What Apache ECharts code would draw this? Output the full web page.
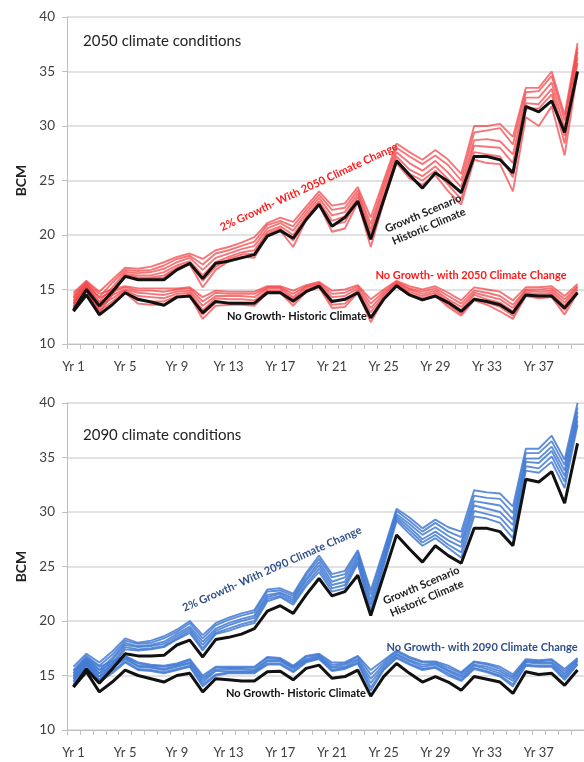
<!DOCTYPE html>
<html>
<head>
<meta charset="utf-8">
<script src="https://cdn.jsdelivr.net/npm/echarts@6/dist/echarts.min.js"></script>
<style>
html,body{margin:0;padding:0;background:#fff;}
#chart{width:584px;height:762px;}
</style>
</head>
<body>
<div id="chart"></div>
<script>
// ---------- DATA ----------
const categories = ['Yr 1','Yr 2','Yr 3','Yr 4','Yr 5','Yr 6','Yr 7','Yr 8','Yr 9','Yr 10',
  'Yr 11','Yr 12','Yr 13','Yr 14','Yr 15','Yr 16','Yr 17','Yr 18','Yr 19','Yr 20',
  'Yr 21','Yr 22','Yr 23','Yr 24','Yr 25','Yr 26','Yr 27','Yr 28','Yr 29','Yr 30',
  'Yr 31','Yr 32','Yr 33','Yr 34','Yr 35','Yr 36','Yr 37','Yr 38','Yr 39','Yr 40'];
const yTicks = [10, 15, 20, 25, 30, 35, 40];

// ---- Panel 1: 2050 climate conditions ----
const growthHistoric2050 = [13.1,15.0,13.5,14.8,16.2,15.9,15.9,15.9,16.8,17.4,16.0,17.4,17.6,17.9,18.2,19.9,20.4,19.7,21.4,22.8,20.8,21.6,23.1,19.6,23.2,26.8,25.5,24.3,25.7,24.9,23.9,27.2,27.2,26.9,25.7,31.8,31.3,32.3,29.4,35.0];
const growthCC2050_a = [14.7,15.8,14.8,15.9,17.0,16.9,17.1,17.5,18.0,18.3,17.8,18.6,18.9,19.3,19.8,21.1,21.6,21.2,22.6,24.0,22.7,22.9,24.4,21.6,25.0,28.4,27.6,26.9,27.8,26.9,25.6,30.0,30.0,30.2,29.0,33.5,33.5,35.0,31.0,37.6];
const growthCC2050_b = [14.3,15.6,14.3,15.6,16.8,16.7,16.8,17.2,17.8,18.1,17.3,18.3,18.6,19.0,19.4,20.9,21.3,20.8,22.3,23.7,22.3,22.5,24.1,21.0,24.6,28.0,27.2,26.5,27.3,26.4,25.0,29.4,29.6,29.8,28.3,33.1,33.2,34.6,30.5,37.2];
const growthCC2050_c = [14.0,15.4,13.9,15.2,16.6,16.5,16.6,16.9,17.5,17.9,16.8,17.9,18.3,18.7,19.0,20.6,21.1,20.4,22.0,23.4,21.8,22.1,23.8,20.5,24.2,27.6,26.6,25.9,26.8,25.7,24.4,28.7,28.8,28.6,27.4,32.6,32.6,34.0,29.8,36.8];
const growthCC2050_d = [13.7,15.2,13.5,14.9,16.4,16.3,16.3,16.6,17.2,17.6,16.3,17.5,18.0,18.4,18.6,20.3,20.8,20.0,21.7,23.1,21.3,21.7,23.5,20.1,23.7,27.2,26.0,25.4,26.3,25.1,23.8,28.2,28.1,28.0,26.6,32.1,32.0,33.4,29.1,36.3];
const growthCC2050_e = [13.5,15.1,13.2,14.7,16.3,16.1,16.1,16.3,17.0,17.4,15.8,17.1,17.8,18.2,18.3,20.1,20.6,19.5,21.5,22.9,20.9,21.2,23.2,19.6,23.4,26.9,25.6,25.0,25.9,24.6,23.3,27.6,27.4,27.2,25.3,31.6,31.6,32.9,28.4,35.8];
const growthCC2050_f = [13.3,15.0,12.9,14.5,16.3,16.0,16.0,16.1,16.9,17.3,15.2,16.8,17.6,18.0,17.9,20.0,20.4,18.9,21.4,22.8,20.3,20.6,23.0,18.9,23.0,26.6,25.2,24.6,25.5,24.0,22.8,26.9,26.6,26.5,24.0,30.8,30.0,31.8,27.3,35.0];
const noGrowthHistoric2050 = [13.0,14.5,12.7,13.6,14.7,14.1,13.85,13.55,14.3,14.4,12.85,13.9,13.75,13.75,13.75,14.7,14.7,13.95,14.8,15.3,13.9,14.1,14.7,12.4,14.1,15.35,14.5,14.05,14.4,13.8,13.0,14.1,13.9,13.6,12.85,14.5,14.4,14.4,13.3,14.7];
const noGrowthCC2050_a = [14.5,15.7,14.6,15.0,15.3,15.1,15.1,15.1,15.1,15.2,14.3,14.9,14.8,14.8,14.8,15.3,15.3,14.9,15.4,15.7,14.9,15.0,15.4,14.1,15.0,15.8,15.3,15.0,15.3,14.7,14.0,15.2,15.0,14.8,14.0,15.2,15.2,15.3,14.4,15.5];
const noGrowthCC2050_b = [14.2,15.5,14.2,14.8,15.2,14.9,14.9,14.8,15.0,15.1,13.9,14.7,14.6,14.6,14.6,15.2,15.2,14.6,15.3,15.6,14.6,14.7,15.3,13.7,14.8,15.7,15.1,14.8,15.1,14.4,13.7,14.9,14.7,14.4,13.6,15.0,15.0,15.1,14.1,15.3];
const noGrowthCC2050_c = [13.9,15.3,13.8,14.5,15.0,14.7,14.6,14.5,14.8,14.9,13.5,14.4,14.4,14.4,14.3,15.1,15.1,14.3,15.2,15.5,14.3,14.4,15.1,13.3,14.6,15.6,15.0,14.6,14.9,14.1,13.4,14.7,14.4,14.1,13.3,14.9,14.8,14.9,13.8,15.2];
const noGrowthCC2050_d = [13.7,15.1,13.4,14.2,14.9,14.4,14.3,14.2,14.6,14.7,13.1,14.2,14.1,14.1,14.0,14.9,14.9,14.1,15.0,15.4,14.0,14.0,14.9,12.9,14.4,15.5,14.8,14.4,14.7,13.9,13.1,14.5,14.1,13.8,13.0,14.7,14.6,14.7,13.5,15.0];
const noGrowthCC2050_e = [13.4,14.9,13.0,13.9,14.8,14.0,13.9,13.9,14.4,14.5,12.7,13.8,13.8,13.8,13.7,14.8,14.8,13.8,14.9,15.3,13.6,13.7,14.8,12.4,14.2,15.4,14.6,14.2,14.5,13.6,12.8,14.2,13.8,13.4,12.6,14.5,14.4,14.5,13.1,14.8];
const noGrowthCC2050_f = [13.2,14.8,12.6,13.6,14.7,13.7,13.6,13.6,14.3,14.4,12.3,13.5,13.6,13.6,13.5,14.7,14.7,13.5,14.8,15.2,13.3,13.4,14.7,12.0,14.1,15.3,14.5,14.0,14.4,13.4,12.6,14.0,13.6,13.0,12.3,14.4,14.2,14.3,12.7,14.7];

// ---- Panel 2: 2090 climate conditions ----
const growthHistoric2090 = [13.95,15.6,14.3,15.6,17.0,16.8,16.8,16.85,17.8,18.25,16.7,18.3,18.5,18.8,19.3,20.9,21.4,20.7,22.4,23.9,22.3,22.7,24.2,20.5,24.2,27.9,26.6,25.4,26.9,26.0,25.3,28.5,28.5,28.2,26.9,33.0,32.75,33.7,30.8,36.3];
const growthCC2090_a = [15.8,17.0,16.2,17.2,18.4,18.0,18.2,18.6,19.2,20.0,18.7,19.8,20.3,20.7,21.0,22.9,23.0,22.5,24.4,26.0,24.3,24.6,26.5,22.8,26.5,30.3,29.5,28.5,29.3,28.6,28.2,32.0,31.8,31.7,30.5,35.8,35.8,37.0,34.8,40.0];
const growthCC2090_b = [15.5,16.8,15.9,16.9,18.2,17.9,18.0,18.4,19.0,19.8,18.4,19.6,20.1,20.5,20.8,22.7,22.8,22.3,24.2,25.7,24.0,24.3,26.3,22.4,26.2,30.1,29.2,28.2,29.0,28.2,27.7,31.5,31.3,31.2,29.9,35.4,35.4,36.5,34.3,39.6];
const growthCC2090_c = [15.2,16.6,15.5,16.6,18.0,17.7,17.8,18.1,18.8,19.5,18.1,19.3,19.8,20.2,20.5,22.4,22.6,22.1,23.9,25.4,23.6,24.0,26.0,21.9,25.9,29.8,28.9,27.9,28.6,27.8,27.2,31.0,30.8,30.6,29.3,34.9,34.9,36.0,33.8,39.2];
const growthCC2090_d = [15.0,16.4,15.2,16.4,17.8,17.6,17.7,17.9,18.6,19.3,17.8,19.1,19.6,20.0,20.3,22.2,22.5,21.9,23.7,25.1,23.3,23.6,25.8,21.5,25.6,29.6,28.6,27.5,28.2,27.4,26.8,30.6,30.3,30.0,28.8,34.6,34.5,35.6,33.3,38.8];
const growthCC2090_e = [14.7,16.2,14.9,16.1,17.6,17.4,17.5,17.7,18.4,19.1,17.5,18.9,19.3,19.7,20.0,22.0,22.3,21.7,23.4,24.8,23.0,23.3,25.5,21.0,25.3,29.4,28.3,27.2,27.9,27.0,26.3,30.1,29.8,29.5,28.2,34.2,34.0,35.1,32.8,38.4];
const growthCC2090_f = [14.5,16.0,14.6,15.9,17.4,17.3,17.4,17.6,18.3,18.9,17.3,18.8,19.1,19.5,19.8,21.8,22.2,21.5,23.2,24.5,22.7,23.0,25.3,20.6,25.0,29.2,28.0,26.9,27.6,26.7,25.8,29.6,29.4,29.0,27.6,33.8,33.6,34.6,32.2,38.0];
const noGrowthHistoric2090 = [13.95,15.35,13.5,14.4,15.5,15.0,14.7,14.4,15.0,15.2,13.5,14.7,14.6,14.5,14.5,15.35,15.4,14.6,15.65,15.95,14.75,14.9,15.5,13.1,14.9,16.1,15.2,14.4,14.9,14.4,13.65,14.9,14.65,14.4,13.35,15.35,15.1,15.2,14.1,15.5];
const noGrowthCC2090_a = [15.4,16.6,15.8,16.3,16.8,16.2,16.0,15.9,16.1,16.5,15.0,15.8,15.8,15.8,15.8,16.7,16.6,15.9,16.8,17.0,16.2,16.2,16.8,15.5,16.4,17.3,16.7,16.3,16.3,15.9,15.3,16.3,16.1,15.8,15.1,16.5,16.4,16.5,15.6,16.6];
const noGrowthCC2090_b = [15.2,16.5,15.5,16.1,16.7,16.1,15.9,15.8,16.0,16.4,14.8,15.7,15.7,15.7,15.7,16.6,16.5,15.8,16.7,16.9,16.0,16.1,16.7,15.1,16.2,17.2,16.6,16.2,16.2,15.7,15.2,16.2,16.0,15.6,14.9,16.4,16.3,16.4,15.4,16.5];
const noGrowthCC2090_c = [14.9,16.3,15.2,15.9,16.6,15.9,15.8,15.6,15.9,16.2,14.6,15.5,15.6,15.6,15.5,16.4,16.4,15.7,16.5,16.8,15.8,16.0,16.5,14.7,16.0,17.0,16.4,16.0,16.1,15.5,15.0,16.0,15.8,15.4,14.7,16.3,16.2,16.2,15.2,16.4];
const noGrowthCC2090_d = [14.7,16.2,14.9,15.7,16.5,15.8,15.7,15.5,15.8,16.1,14.4,15.4,15.4,15.4,15.4,16.3,16.3,15.6,16.4,16.7,15.7,15.8,16.4,14.3,15.8,16.9,16.3,15.8,16.0,15.4,14.8,15.9,15.6,15.2,14.5,16.2,16.1,16.1,15.0,16.3];
const noGrowthCC2090_e = [14.4,16.0,14.6,15.4,16.3,15.6,15.5,15.3,15.6,15.9,14.2,15.1,15.3,15.3,15.3,16.1,16.1,15.4,16.3,16.6,15.5,15.7,16.2,13.9,15.6,16.7,16.1,15.6,15.8,15.2,14.6,15.7,15.4,15.0,14.2,16.0,15.9,15.9,14.8,16.1];
const noGrowthCC2090_f = [14.2,15.8,14.4,15.2,16.2,15.5,15.4,15.2,15.5,15.8,14.0,15.0,15.2,15.2,15.2,16.0,16.0,15.3,16.2,16.5,15.4,15.6,16.1,13.6,15.5,16.6,16.0,15.5,15.7,15.0,14.5,15.6,15.3,14.9,14.0,15.9,15.8,15.8,14.6,16.0];

// ---------- CHART ----------
const FONT = 'Lato, "Open Sans", sans-serif';
const RED = 'rgba(242,64,68,0.72)';
const BLUE = 'rgba(66,122,210,0.85)';
const BLACK = '#111111';

const chart = echarts.init(document.getElementById('chart'), null, {renderer: 'canvas'});

function xAxisDef(gridIndex) {
  return {
    type: 'category', gridIndex: gridIndex, data: categories, boundaryGap: true,
    axisLine: {show: true, lineStyle: {color: '#bfbfbf', width: 1}},
    axisTick: {show: true, interval: 0, length: 5, lineStyle: {color: '#bfbfbf'}},
    axisLabel: {interval: 3, margin: 16, color: '#404040', fontSize: 13, fontFamily: FONT},
    splitLine: {show: false}
  };
}
function yAxisDef(gridIndex) {
  return {
    type: 'value', gridIndex: gridIndex, min: yTicks[0], max: yTicks[yTicks.length - 1], interval: 5,
    name: 'BCM', nameLocation: 'middle', nameGap: 38, nameRotate: 90,
    nameTextStyle: {fontFamily: FONT, fontWeight: 'bold', fontSize: 14, color: '#222'},
    axisLine: {show: true, lineStyle: {color: '#bfbfbf', width: 1}},
    axisTick: {show: true, length: 5, lineStyle: {color: '#bfbfbf'}},
    axisLabel: {margin: 12, color: '#404040', fontSize: 13.5, fontFamily: FONT},
    splitLine: {show: true, lineStyle: {color: '#d9d9d9', width: 1.5}}
  };
}
function line(data, idx, color, width, z) {
  return {type: 'line', data: data, xAxisIndex: idx, yAxisIndex: idx, symbol: 'none',
    lineStyle: {color: color, width: width}, itemStyle: {color: color}, z: z, silent: true, animation: false};
}

const series = [];
[growthCC2050_a, growthCC2050_b, growthCC2050_c, growthCC2050_d, growthCC2050_e, growthCC2050_f,
 noGrowthCC2050_a, noGrowthCC2050_b, noGrowthCC2050_c, noGrowthCC2050_d, noGrowthCC2050_e, noGrowthCC2050_f]
  .forEach(d => series.push(line(d, 0, RED, 1.9, 2)));
series.push(line(growthHistoric2050, 0, BLACK, 3, 3));
series.push(line(noGrowthHistoric2050, 0, BLACK, 3, 3));
[growthCC2090_a, growthCC2090_b, growthCC2090_c, growthCC2090_d, growthCC2090_e, growthCC2090_f,
 noGrowthCC2090_a, noGrowthCC2090_b, noGrowthCC2090_c, noGrowthCC2090_d, noGrowthCC2090_e, noGrowthCC2090_f]
  .forEach(d => series.push(line(d, 1, BLUE, 1.9, 2)));
series.push(line(growthHistoric2090, 1, BLACK, 3, 3));
series.push(line(noGrowthHistoric2090, 1, BLACK, 3, 3));

function txt(text, x, y, color, size, weight, rotDeg, align) {
  return {type: 'text', x: x, y: y, rotation: (rotDeg || 0) * Math.PI / 180, z: 100,
    style: {text: text, fill: color, fontSize: size, fontWeight: weight, fontFamily: FONT,
      align: align || 'center', verticalAlign: 'middle', lineHeight: size + 3}};
}

const option = {
  backgroundColor: '#ffffff',
  animation: false,
  grid: [
    {left: 67, right: -5, top: 17, height: 327, containLabel: false},
    {left: 67, right: -5, top: 403, height: 327, containLabel: false}
  ],
  xAxis: [xAxisDef(0), xAxisDef(1)],
  yAxis: [yAxisDef(0), yAxisDef(1)],
  series: series,
  graphic: [
    txt('2050 climate conditions', 83, 41, '#222', 15, 'normal', 0, 'left'),
    txt('2% Growth- With 2050 Climate Change', 309, 187, '#ff1a1a', 11, 'bold', 25),
    txt('Growth Scenario\nHistoric Climate', 426, 220, '#222', 11, 'bold', 23),
    txt('No Growth- with 2050 Climate Change', 471, 275, '#ff1a1a', 11, 'bold', 0),
    txt('No Growth- Historic Climate', 297, 316, '#111', 11, 'bold', 0),
    txt('2090 climate conditions', 83, 435, '#222', 15, 'normal', 0, 'left'),
    txt('2% Growth- With 2090 Climate Change', 272, 569, '#2f4f8a', 11, 'bold', 24),
    txt('Growth Scenario\nHistoric Climate', 424, 592, '#222', 11, 'bold', 23),
    txt('No Growth- with 2090 Climate Change', 482, 647, '#2f4f8a', 11, 'bold', 0),
    txt('No Growth- Historic Climate', 296, 693, '#111', 11, 'bold', 0)
  ]
};
chart.setOption(option);
</script>
</body>
</html>
